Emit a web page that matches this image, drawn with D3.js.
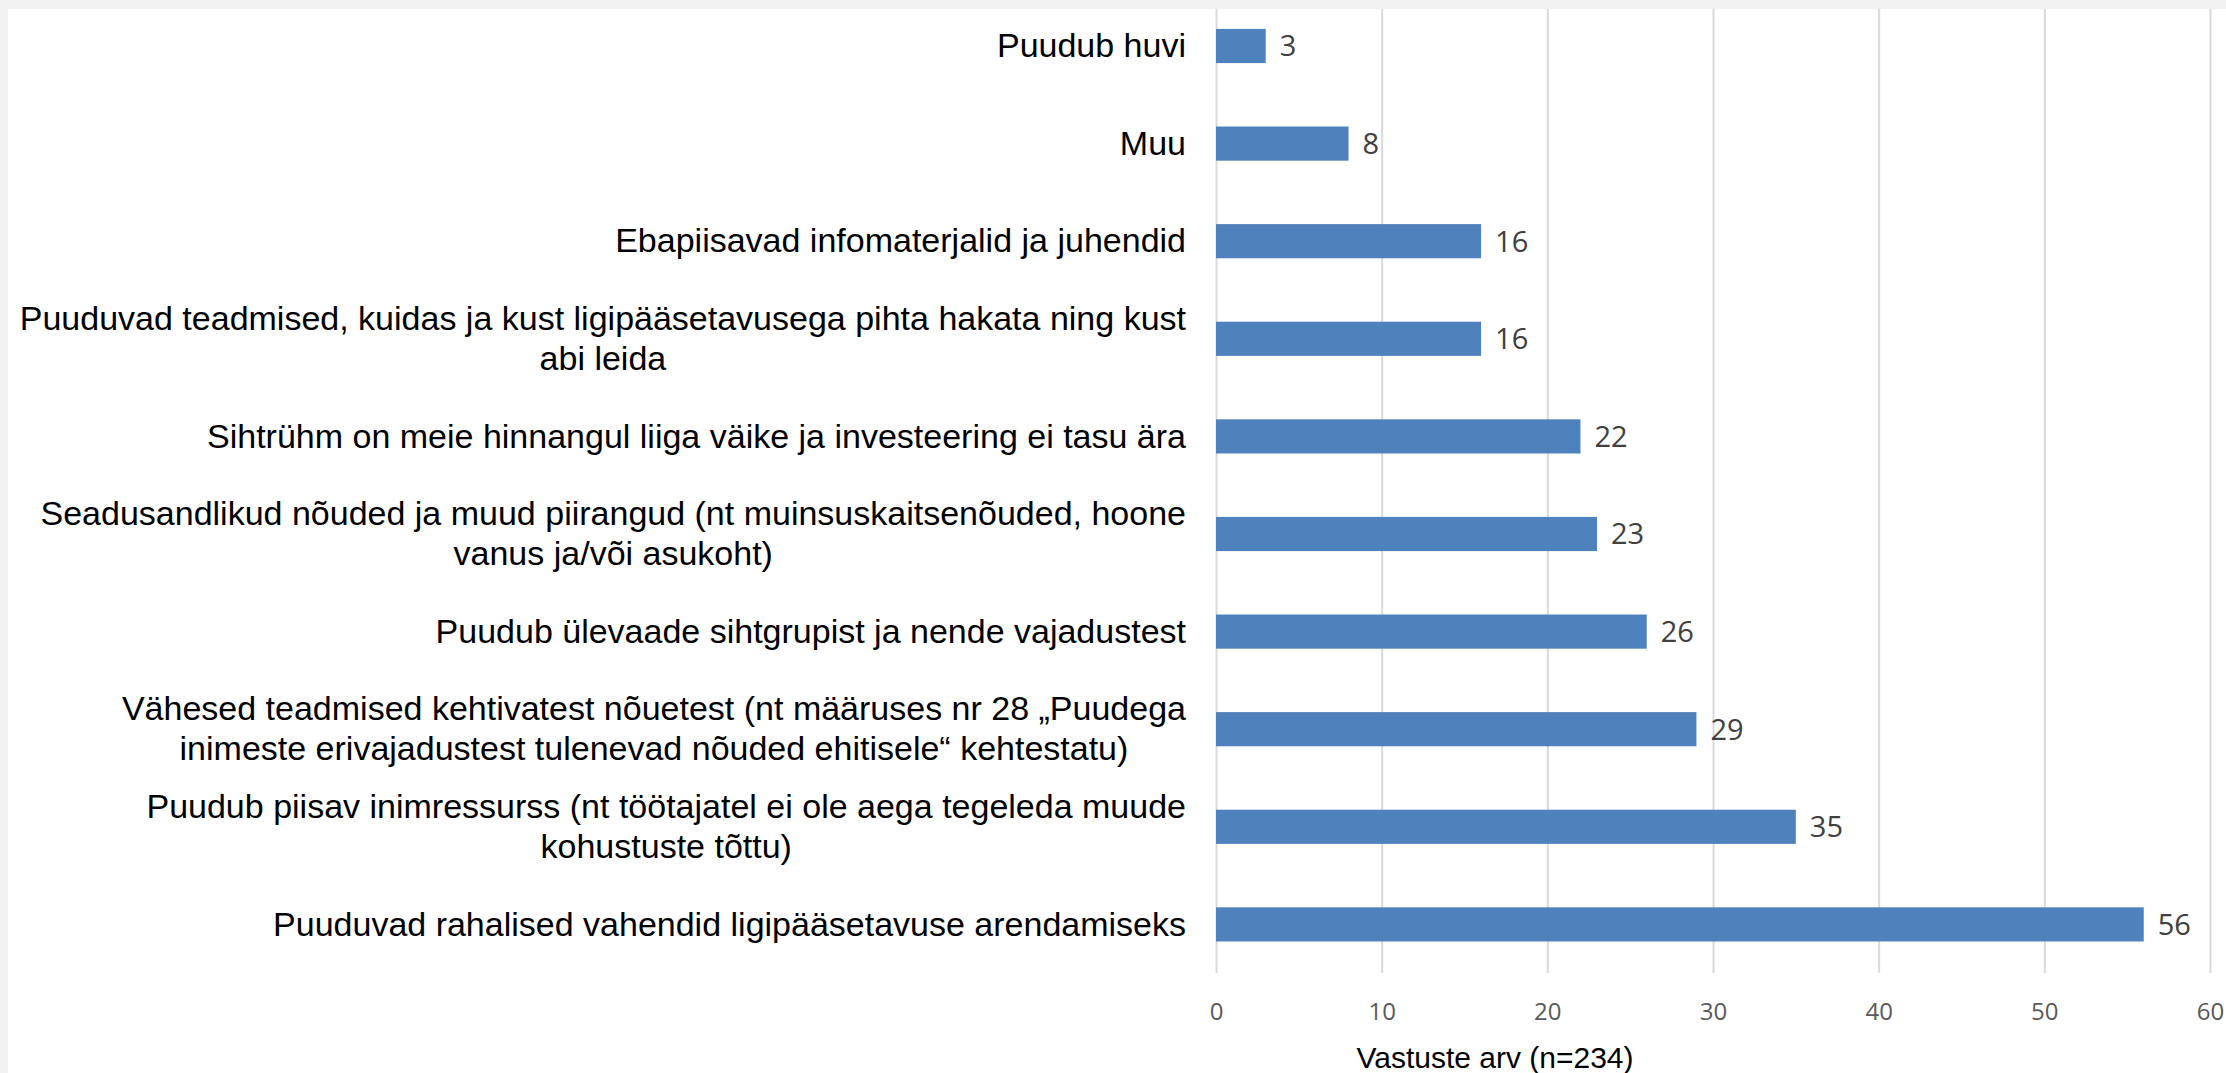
<!DOCTYPE html>
<html>
<head>
<meta charset="utf-8">
<script src="https://d3js.org/d3.v7.min.js"></script>
<style>
  html, body { margin: 0; padding: 0; background: #fff; }
  svg { display: block; }
</style>
</head>
<body>
<div id="chart"></div>
<script>
// Categories top to bottom (line breaks as in the original labels)
const categories = [
  "Puudub huvi",
  "Muu",
  "Ebapiisavad infomaterjalid ja juhendid",
  "Puuduvad teadmised, kuidas ja kust ligipääsetavusega pihta hakata ning kust\nabi leida",
  "Sihtrühm on meie hinnangul liiga väike ja investeering ei tasu ära",
  "Seadusandlikud nõuded ja muud piirangud (nt muinsuskaitsenõuded, hoone\nvanus ja/või asukoht)",
  "Puudub ülevaade sihtgrupist ja nende vajadustest",
  "Vähesed teadmised kehtivatest nõuetest (nt määruses nr 28 „Puudega\ninimeste erivajadustest tulenevad nõuded ehitisele“ kehtestatu)",
  "Puudub piisav inimressurss (nt töötajatel ei ole aega tegeleda muude\nkohustuste tõttu)",
  "Puuduvad rahalised vahendid ligipääsetavuse arendamiseks"
];
const counts = [3, 8, 16, 16, 22, 23, 26, 29, 35, 56];
const xTicks = [0, 10, 20, 30, 40, 50, 60];
const xTitle = "Vastuste arv (n=234)";

const width = 2226, height = 1073;
const plotLeft = 1216, plotRight = 2210, plotTop = 9, plotBottom = 973;

const svg = d3.select("#chart")
  .append("svg")
  .attr("width", width)
  .attr("height", height);

svg.append("rect").attr("width", width).attr("height", height).attr("fill", "#fff");

const x = d3.scaleLinear().domain([0, 60]).range([plotLeft, plotRight]);
const y = d3.scaleBand()
  .domain(categories)
  .range([-2.8, 973.2])
  .paddingInner(0.65)
  .paddingOuter(0.325);

// gridlines + tick labels
const axis = svg.append("g")
  .attr("transform", `translate(0,${plotBottom})`)
  .call(d3.axisBottom(x).tickValues(xTicks).tickSize(-(plotBottom - plotTop)).tickFormat(d3.format("d")));
axis.select(".domain").remove();
axis.selectAll(".tick line").attr("stroke", "#d9d9d9").attr("stroke-width", 2);
axis.selectAll(".tick text")
  .attr("y", 47)
  .attr("dy", 0)
  .attr("fill", "#595959")
  .style("font-family", "'Open Sans', sans-serif")
  .style("font-size", "24px");

// bars
svg.append("g")
  .selectAll("rect")
  .data(counts)
  .join("rect")
  .attr("x", x(0))
  .attr("y", (d, i) => y(categories[i]))
  .attr("width", d => x(d) - x(0))
  .attr("height", y.bandwidth())
  .attr("fill", "#4f81bd");

// value labels
svg.append("g")
  .selectAll("text")
  .data(counts)
  .join("text")
  .attr("x", d => x(d) + 14)
  .attr("y", (d, i) => y(categories[i]) + y.bandwidth() / 2)
  .attr("dy", "0.36em")
  .attr("fill", "#404040")
  .style("font-family", "'Open Sans', sans-serif")
  .style("font-size", "29px")
  .text(d => d);

// category labels, lines centred on each other, block right aligned
const labelRight = 1186;
const lineH = 40;
const labelG = svg.append("g")
  .style("font-family", "'Liberation Sans', Arial, sans-serif")
  .style("font-size", "34px")
  .attr("fill", "#000");

categories.forEach((c) => {
  const lines = c.split("\n");
  const cy = y(c) + y.bandwidth() / 2;
  const t = labelG.append("text").attr("text-anchor", "middle");
  lines.forEach((ln, j) => {
    t.append("tspan")
      .attr("y", cy + (j - (lines.length - 1) / 2) * lineH)
      .attr("dy", "0.33em")
      .text(ln);
  });
  let maxW = 0;
  t.selectAll("tspan").each(function () {
    maxW = Math.max(maxW, this.getComputedTextLength());
  });
  t.selectAll("tspan").attr("x", labelRight - maxW / 2);
});

// axis title
svg.append("text")
  .attr("x", 1495)
  .attr("y", 1068)
  .attr("text-anchor", "middle")
  .style("font-family", "'Liberation Sans', Arial, sans-serif")
  .style("font-size", "30px")
  .attr("fill", "#000")
  .text(xTitle);

// grey frame edges (top and left)
svg.append("rect").attr("x", 0).attr("y", 0).attr("width", width).attr("height", 9).attr("fill", "#f2f2f2");
svg.append("rect").attr("x", 0).attr("y", 0).attr("width", 8).attr("height", height).attr("fill", "#f2f2f2");
</script>
</body>
</html>
